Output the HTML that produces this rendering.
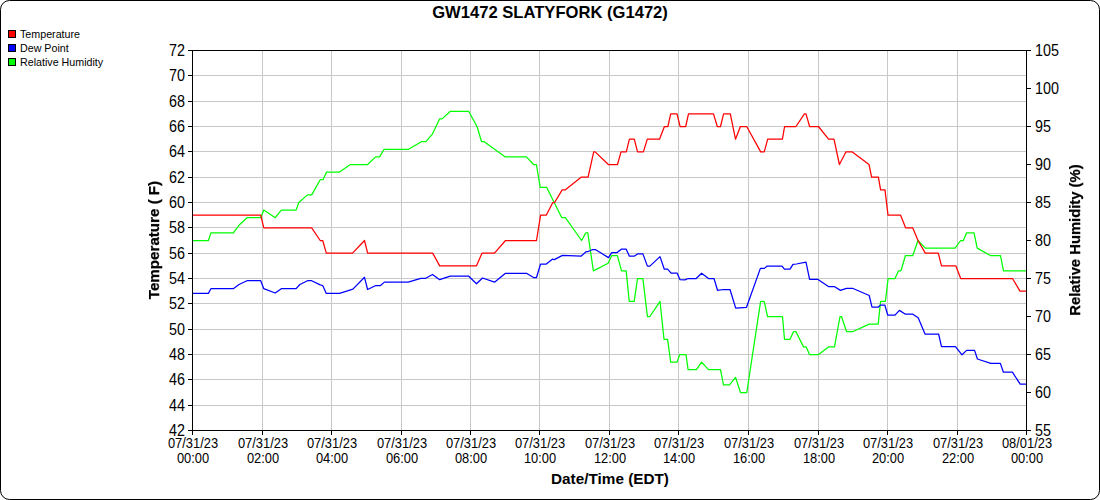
<!DOCTYPE html>
<html><head><meta charset="utf-8"><style>
html,body{margin:0;padding:0;background:#fff;width:1100px;height:500px;overflow:hidden}
#w{position:relative;width:1100px;height:500px}
svg{position:absolute;left:0;top:0}
.t{position:absolute;white-space:nowrap;color:#000}
.xl{width:100px;text-align:center;font:15px 'Liberation Sans', sans-serif;line-height:15px;transform:scaleX(0.858);transform-origin:50% 0}
.yl{font:15.6px 'Liberation Sans', sans-serif;line-height:18px;transform:scaleX(0.92)}
.rot{text-align:center;transform:rotate(-90deg);transform-origin:50% 50%;will-change:transform;-webkit-text-stroke:0.25px #000}
</style></head><body><div id="w">
<svg width="1100" height="500" viewBox="0 0 1100 500" shape-rendering="auto">
<rect x="0.5" y="0.5" width="1099" height="499" rx="9" ry="9" fill="#fff" stroke="#000" stroke-width="1"/>
<rect x="262" y="50" width="1" height="380" fill="#c8c8c8"/>
<rect x="331" y="50" width="1" height="380" fill="#c8c8c8"/>
<rect x="401" y="50" width="1" height="380" fill="#c8c8c8"/>
<rect x="470" y="50" width="1" height="380" fill="#c8c8c8"/>
<rect x="539" y="50" width="1" height="380" fill="#c8c8c8"/>
<rect x="609" y="50" width="1" height="380" fill="#c8c8c8"/>
<rect x="678" y="50" width="1" height="380" fill="#c8c8c8"/>
<rect x="748" y="50" width="1" height="380" fill="#c8c8c8"/>
<rect x="818" y="50" width="1" height="380" fill="#c8c8c8"/>
<rect x="887" y="50" width="1" height="380" fill="#c8c8c8"/>
<rect x="957" y="50" width="1" height="380" fill="#c8c8c8"/>
<rect x="192" y="75" width="834" height="1" fill="#c8c8c8"/>
<rect x="192" y="101" width="834" height="1" fill="#c8c8c8"/>
<rect x="192" y="126" width="834" height="1" fill="#c8c8c8"/>
<rect x="192" y="151" width="834" height="1" fill="#c8c8c8"/>
<rect x="192" y="177" width="834" height="1" fill="#c8c8c8"/>
<rect x="192" y="202" width="834" height="1" fill="#c8c8c8"/>
<rect x="192" y="227" width="834" height="1" fill="#c8c8c8"/>
<rect x="192" y="253" width="834" height="1" fill="#c8c8c8"/>
<rect x="192" y="278" width="834" height="1" fill="#c8c8c8"/>
<rect x="192" y="303" width="834" height="1" fill="#c8c8c8"/>
<rect x="192" y="329" width="834" height="1" fill="#c8c8c8"/>
<rect x="192" y="354" width="834" height="1" fill="#c8c8c8"/>
<rect x="192" y="379" width="834" height="1" fill="#c8c8c8"/>
<rect x="192" y="405" width="834" height="1" fill="#c8c8c8"/>
<g fill="none" stroke-width="1.25" stroke-linejoin="round" stroke-linecap="butt">
<polyline stroke="#00ff00" points="192,240.50 208.4,240.50 210.9,232.90 233.3,232.90 239,225.30 247,217.70 260.7,217.70 263.8,210.10 275.2,217.70 281.3,210.10 296.1,210.10 298.75,202.50 307.5,194.90 311.7,194.90 320.2,179.70 323,179.70 326.6,172.10 339.5,172.10 350.4,164.50 367.6,164.50 375.6,156.90 379.6,156.90 384,149.30 408.4,149.30 421.4,141.70 425.8,141.70 432.4,134.10 439.6,118.90 442,118.90 450.4,111.30 468.7,111.30 477,126.50 481.6,141.70 484.2,141.70 505.4,156.90 526.4,156.90 533.6,164.50 536.4,164.50 540.2,187.30 546.6,187.30 561.8,217.70 565.4,217.70 581.6,240.50 585.8,232.90 587.8,232.90 593.4,270.90 608.1,263.30 611.7,255.70 617.4,255.70 621.5,270.90 626.2,270.90 629.2,301.30 634.2,301.30 637.5,278.50 642.9,278.50 647.4,316.50 649.9,316.50 660,301.30 664,339.30 667.6,339.30 670.7,362.10 677,362.10 679.7,354.50 686,354.50 688.1,369.70 696.4,369.70 701.6,362.10 708.5,369.70 720.5,369.70 723.5,384.90 729.5,384.90 735.5,377.30 740.5,392.50 746.8,392.50 760.6,301.30 764.2,301.30 767.5,316.50 782.5,316.50 784.5,339.30 790,339.30 793.5,331.70 796,331.70 803.5,346.90 806.2,346.90 809.5,354.50 818.5,354.50 828.5,346.90 834.5,346.90 840,316.50 841.5,316.50 846.6,331.70 852.5,331.70 869.2,324.10 878.2,324.10 880.6,301.30 885.4,301.30 888.1,278.50 895,278.50 898.4,270.90 900.9,270.90 905.4,255.70 912.7,255.70 918,240.50 925.3,248.10 955.1,248.10 960.7,240.50 963.4,240.50 966.5,232.90 974.1,232.90 977.2,248.10 990.75,255.70 1000.5,255.70 1003.5,270.90 1026,270.90"/>
<polyline stroke="#ff0000" points="192,215.17 260.7,215.17 263.8,227.83 311.7,227.83 320.2,240.50 322.7,240.50 326.3,253.17 352.6,253.17 364.5,240.50 367.6,253.17 432.7,253.17 439.7,265.83 476.5,265.83 482,253.17 494.5,253.17 505.5,240.50 536.5,240.50 540.6,215.17 546.2,215.17 552.8,202.50 554.6,202.50 562.2,189.83 565.4,189.83 581.1,177.17 588.1,177.17 593.7,151.83 595.1,151.83 608.4,164.50 617.5,164.50 621,151.83 626.3,151.83 629.4,139.17 634.3,139.17 637.5,151.83 643.4,151.83 647.3,139.17 659.5,139.17 664.4,126.50 667.9,126.50 670.7,113.83 677,113.83 680.1,126.50 685.7,126.50 688.5,113.83 713.5,113.83 717.3,126.50 720.5,126.50 723.6,113.83 730.3,113.83 735.5,139.17 740.4,126.50 746.7,126.50 760.7,151.83 764.2,151.83 767.7,139.17 782.4,139.17 784.6,126.50 796,126.50 804.4,113.83 806,113.83 809.6,126.50 818.4,126.50 828.6,139.17 834,139.17 839.4,164.50 846,151.83 852,151.83 869,164.50 871.6,177.17 878.4,177.17 880.6,189.83 885,189.83 888,215.17 900.6,215.17 905.6,227.83 912.7,227.83 918,240.50 925.3,253.17 938.3,253.17 941.5,265.83 955.8,265.83 960.7,278.50 1012.5,278.50 1020,291.17 1026,291.17"/>
<polyline stroke="#0000ff" points="192,293.40 208.4,293.40 210.9,288.70 233.3,288.70 239,284.50 247,280.70 260.7,280.70 263.8,288.70 275.2,293.00 281.3,288.70 296.1,288.70 299.9,284.50 307.5,280.70 311.7,280.70 320.2,284.90 322.7,285.50 326.3,293.40 339.6,293.40 352.9,289.10 364.5,277.30 367.6,289.50 375.3,285.70 380.2,285.70 384.4,282.10 408.2,282.10 420.8,278.30 425.7,278.30 432.5,274.50 439.7,279.70 450.2,276.20 468.5,276.00 476.5,283.80 482.5,278.00 494.5,282.20 505.5,273.30 526.5,273.30 533.5,277.50 536.5,277.50 540.5,264.20 546.3,264.10 552.4,259.20 554.3,259.60 562.5,255.40 581,256.20 586.4,251.50 588.2,251.50 592.7,249.50 595.3,249.50 608.5,257.60 611.7,252.60 617.1,252.60 621.6,249.00 626.1,249.00 629.4,256.20 634.2,256.20 637.5,253.90 642.9,253.90 647.4,266.10 649.9,266.10 660,256.60 664.3,269.20 667.6,269.20 671.1,273.20 677.2,273.20 679.9,279.60 684.9,279.80 688.2,278.50 696.2,278.50 701.6,273.20 708.5,278.50 714,278.50 717.5,290.30 723.4,289.50 730,289.50 735.7,308.10 746.5,307.30 760.4,268.40 764.4,268.40 767.2,266.00 782,266.00 784.4,269.20 790,269.20 793,264.40 796.4,264.00 806,262.20 809.6,279.40 818,279.40 828.4,286.50 834.2,286.50 840.5,290.40 846.4,288.30 852.5,288.30 869.2,295.50 872,307.20 878.2,307.20 880.6,305.00 884.8,305.00 887.8,315.20 895,315.20 899.4,310.40 905.4,314.20 912.4,314.00 918.2,317.80 925,334.00 938.6,334.00 941.5,346.60 955.5,346.60 962,354.80 966.6,350.40 974.6,350.40 977.4,359.00 990.8,363.40 1000.4,363.40 1003.4,372.20 1012.4,372.20 1020.2,384.20 1026,384.20"/>
</g>
<rect x="192" y="50" width="835" height="1" fill="#000"/>
<rect x="192" y="430" width="835" height="1" fill="#000"/>
<rect x="192" y="50" width="1" height="385" fill="#000"/>
<rect x="1026" y="50" width="1" height="385" fill="#000"/>
<rect x="188" y="50" width="4" height="1" fill="#000"/>
<rect x="188" y="75" width="4" height="1" fill="#000"/>
<rect x="188" y="101" width="4" height="1" fill="#000"/>
<rect x="188" y="126" width="4" height="1" fill="#000"/>
<rect x="188" y="151" width="4" height="1" fill="#000"/>
<rect x="188" y="177" width="4" height="1" fill="#000"/>
<rect x="188" y="202" width="4" height="1" fill="#000"/>
<rect x="188" y="227" width="4" height="1" fill="#000"/>
<rect x="188" y="253" width="4" height="1" fill="#000"/>
<rect x="188" y="278" width="4" height="1" fill="#000"/>
<rect x="188" y="303" width="4" height="1" fill="#000"/>
<rect x="188" y="329" width="4" height="1" fill="#000"/>
<rect x="188" y="354" width="4" height="1" fill="#000"/>
<rect x="188" y="379" width="4" height="1" fill="#000"/>
<rect x="188" y="405" width="4" height="1" fill="#000"/>
<rect x="188" y="430" width="4" height="1" fill="#000"/>
<rect x="1027" y="50" width="4" height="1" fill="#000"/>
<rect x="1027" y="88" width="4" height="1" fill="#000"/>
<rect x="1027" y="126" width="4" height="1" fill="#000"/>
<rect x="1027" y="164" width="4" height="1" fill="#000"/>
<rect x="1027" y="202" width="4" height="1" fill="#000"/>
<rect x="1027" y="240" width="4" height="1" fill="#000"/>
<rect x="1027" y="278" width="4" height="1" fill="#000"/>
<rect x="1027" y="316" width="4" height="1" fill="#000"/>
<rect x="1027" y="354" width="4" height="1" fill="#000"/>
<rect x="1027" y="392" width="4" height="1" fill="#000"/>
<rect x="1027" y="430" width="4" height="1" fill="#000"/>
<rect x="192" y="430" width="1" height="5" fill="#000"/>
<rect x="262" y="430" width="1" height="5" fill="#000"/>
<rect x="331" y="430" width="1" height="5" fill="#000"/>
<rect x="401" y="430" width="1" height="5" fill="#000"/>
<rect x="470" y="430" width="1" height="5" fill="#000"/>
<rect x="539" y="430" width="1" height="5" fill="#000"/>
<rect x="609" y="430" width="1" height="5" fill="#000"/>
<rect x="678" y="430" width="1" height="5" fill="#000"/>
<rect x="748" y="430" width="1" height="5" fill="#000"/>
<rect x="818" y="430" width="1" height="5" fill="#000"/>
<rect x="887" y="430" width="1" height="5" fill="#000"/>
<rect x="957" y="430" width="1" height="5" fill="#000"/>
<rect x="1026" y="430" width="1" height="5" fill="#000"/>
<rect x="8.5" y="30.5" width="7" height="7" fill="#ff0000" stroke="#000" stroke-width="1"/>
<rect x="8.5" y="44.5" width="7" height="7" fill="#0000ff" stroke="#000" stroke-width="1"/>
<rect x="8.5" y="58.5" width="7" height="7" fill="#00ff00" stroke="#000" stroke-width="1"/>
</svg>
<div class="t" style="left:0px;width:1100px;top:3px;text-align:center;font:bold 16.6px 'Liberation Sans', sans-serif;line-height:20px">GW1472 SLATYFORK (G1472)</div>
<div class="t" style="left:20px;top:27px;font:10.7px 'Liberation Sans', sans-serif;line-height:14px">Temperature</div>
<div class="t" style="left:20px;top:41px;font:10.7px 'Liberation Sans', sans-serif;line-height:14px">Dew Point</div>
<div class="t" style="left:20px;top:55px;font:10.7px 'Liberation Sans', sans-serif;line-height:14px">Relative Humidity</div>
<div class="t yl" style="left:125px;width:60px;text-align:right;top:42.00px;transform-origin:100% 50%">72</div>
<div class="t yl" style="left:125px;width:60px;text-align:right;top:67.33px;transform-origin:100% 50%">70</div>
<div class="t yl" style="left:125px;width:60px;text-align:right;top:92.67px;transform-origin:100% 50%">68</div>
<div class="t yl" style="left:125px;width:60px;text-align:right;top:118.00px;transform-origin:100% 50%">66</div>
<div class="t yl" style="left:125px;width:60px;text-align:right;top:143.33px;transform-origin:100% 50%">64</div>
<div class="t yl" style="left:125px;width:60px;text-align:right;top:168.67px;transform-origin:100% 50%">62</div>
<div class="t yl" style="left:125px;width:60px;text-align:right;top:194.00px;transform-origin:100% 50%">60</div>
<div class="t yl" style="left:125px;width:60px;text-align:right;top:219.33px;transform-origin:100% 50%">58</div>
<div class="t yl" style="left:125px;width:60px;text-align:right;top:244.67px;transform-origin:100% 50%">56</div>
<div class="t yl" style="left:125px;width:60px;text-align:right;top:270.00px;transform-origin:100% 50%">54</div>
<div class="t yl" style="left:125px;width:60px;text-align:right;top:295.33px;transform-origin:100% 50%">52</div>
<div class="t yl" style="left:125px;width:60px;text-align:right;top:320.67px;transform-origin:100% 50%">50</div>
<div class="t yl" style="left:125px;width:60px;text-align:right;top:346.00px;transform-origin:100% 50%">48</div>
<div class="t yl" style="left:125px;width:60px;text-align:right;top:371.33px;transform-origin:100% 50%">46</div>
<div class="t yl" style="left:125px;width:60px;text-align:right;top:396.67px;transform-origin:100% 50%">44</div>
<div class="t yl" style="left:125px;width:60px;text-align:right;top:422.00px;transform-origin:100% 50%">42</div>
<div class="t yl" style="left:1035px;top:42.00px;transform-origin:0 50%">105</div>
<div class="t yl" style="left:1035px;top:80.00px;transform-origin:0 50%">100</div>
<div class="t yl" style="left:1035px;top:118.00px;transform-origin:0 50%">95</div>
<div class="t yl" style="left:1035px;top:156.00px;transform-origin:0 50%">90</div>
<div class="t yl" style="left:1035px;top:194.00px;transform-origin:0 50%">85</div>
<div class="t yl" style="left:1035px;top:232.00px;transform-origin:0 50%">80</div>
<div class="t yl" style="left:1035px;top:270.00px;transform-origin:0 50%">75</div>
<div class="t yl" style="left:1035px;top:308.00px;transform-origin:0 50%">70</div>
<div class="t yl" style="left:1035px;top:346.00px;transform-origin:0 50%">65</div>
<div class="t yl" style="left:1035px;top:384.00px;transform-origin:0 50%">60</div>
<div class="t yl" style="left:1035px;top:422.00px;transform-origin:0 50%">55</div>
<div class="t xl" style="left:142.5px;top:435px">07/31/23<br>00:00</div>
<div class="t xl" style="left:212.5px;top:435px">07/31/23<br>02:00</div>
<div class="t xl" style="left:281.5px;top:435px">07/31/23<br>04:00</div>
<div class="t xl" style="left:351.5px;top:435px">07/31/23<br>06:00</div>
<div class="t xl" style="left:420.5px;top:435px">07/31/23<br>08:00</div>
<div class="t xl" style="left:489.5px;top:435px">07/31/23<br>10:00</div>
<div class="t xl" style="left:559.5px;top:435px">07/31/23<br>12:00</div>
<div class="t xl" style="left:628.5px;top:435px">07/31/23<br>14:00</div>
<div class="t xl" style="left:698.5px;top:435px">07/31/23<br>16:00</div>
<div class="t xl" style="left:768.5px;top:435px">07/31/23<br>18:00</div>
<div class="t xl" style="left:837.5px;top:435px">07/31/23<br>20:00</div>
<div class="t xl" style="left:907.5px;top:435px">07/31/23<br>22:00</div>
<div class="t xl" style="left:976.5px;top:435px">08/01/23<br>00:00</div>
<div class="t" style="left:510.0px;width:200px;text-align:center;top:470px;font:bold 15.3px 'Liberation Sans', sans-serif;line-height:18px">Date/Time (EDT)</div>
<div class="t rot" style="left:53.900000000000006px;top:231.0px;width:200px;font:bold 15.15px 'Liberation Sans', sans-serif;line-height:18px">Temperature ( F)</div>
<div class="t rot" style="left:974.5px;top:231px;width:200px;font:bold 14.8px 'Liberation Sans', sans-serif;line-height:18px">Relative Humidity (%)</div>
</div></body></html>
